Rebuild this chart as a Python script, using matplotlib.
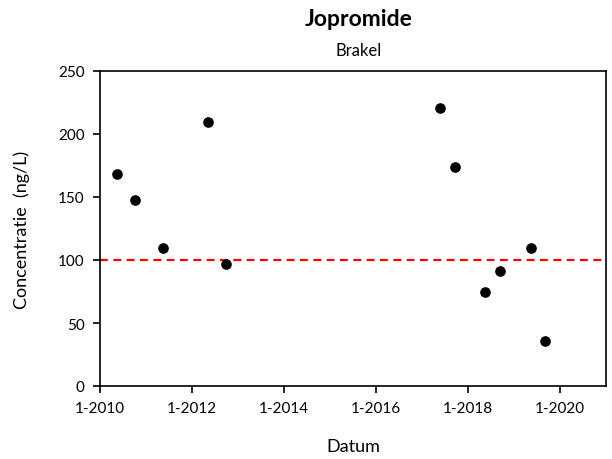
import matplotlib
matplotlib.use("Agg")
import matplotlib.pyplot as plt
import pandas as pd

plt.rcParams['font.family'] = ['Lato', 'DejaVu Sans']

dates = ["2010-05-15", "2010-10-05", "2011-05-15", "2012-05-08", "2012-09-28",
         "2017-05-20", "2017-09-20", "2018-05-15", "2018-09-12", "2019-05-15", "2019-09-01"]
values = [168, 148, 109.5, 209.5, 97, 220.5, 174, 74.5, 91, 109.5, 35.5]
norm = 100
title = "Jopromide"
subtitle = "Brakel"

x = pd.to_datetime(dates)

fig = plt.figure(figsize=(6.12, 4.60), dpi=100)
ax = fig.add_axes([100/612, 1-387/460, 506/612, 315/460])

ax.axhline(norm, color="#ff0000", linestyle=(0, (3.5, 2.5)), linewidth=1.6, zorder=1)
ax.scatter(x, values, s=44, color="black", zorder=3)

ax.set_xlim(pd.Timestamp("2010-01-01"), pd.Timestamp("2021-01-01"))
ax.set_ylim(0, 250)
ax.set_yticks(range(0, 251, 50))
ticks = [pd.Timestamp(f"{y}-01-01") for y in range(2010, 2021, 2)]
ax.set_xticks(ticks)
ax.set_xticklabels([f"1-{t.year}" for t in ticks])

for s in ax.spines.values():
    s.set_color("black")
    s.set_linewidth(1.2)
ax.tick_params(axis="both", labelsize=11, color="black", length=5, width=1.2, direction="out", pad=6)

ax.set_xlabel("Datum", fontsize=13, labelpad=16)
ax.set_ylabel("Concentratie  (ng/L)", fontsize=13, labelpad=20)

fig.text(0.5 + 53/612, 1-20/460, title, ha="center", va="center", fontsize=16.5, fontweight="bold")
fig.text(0.5 + 53/612, 1-51/460, subtitle, ha="center", va="center", fontsize=12)

fig.savefig("out.png", dpi=100)
